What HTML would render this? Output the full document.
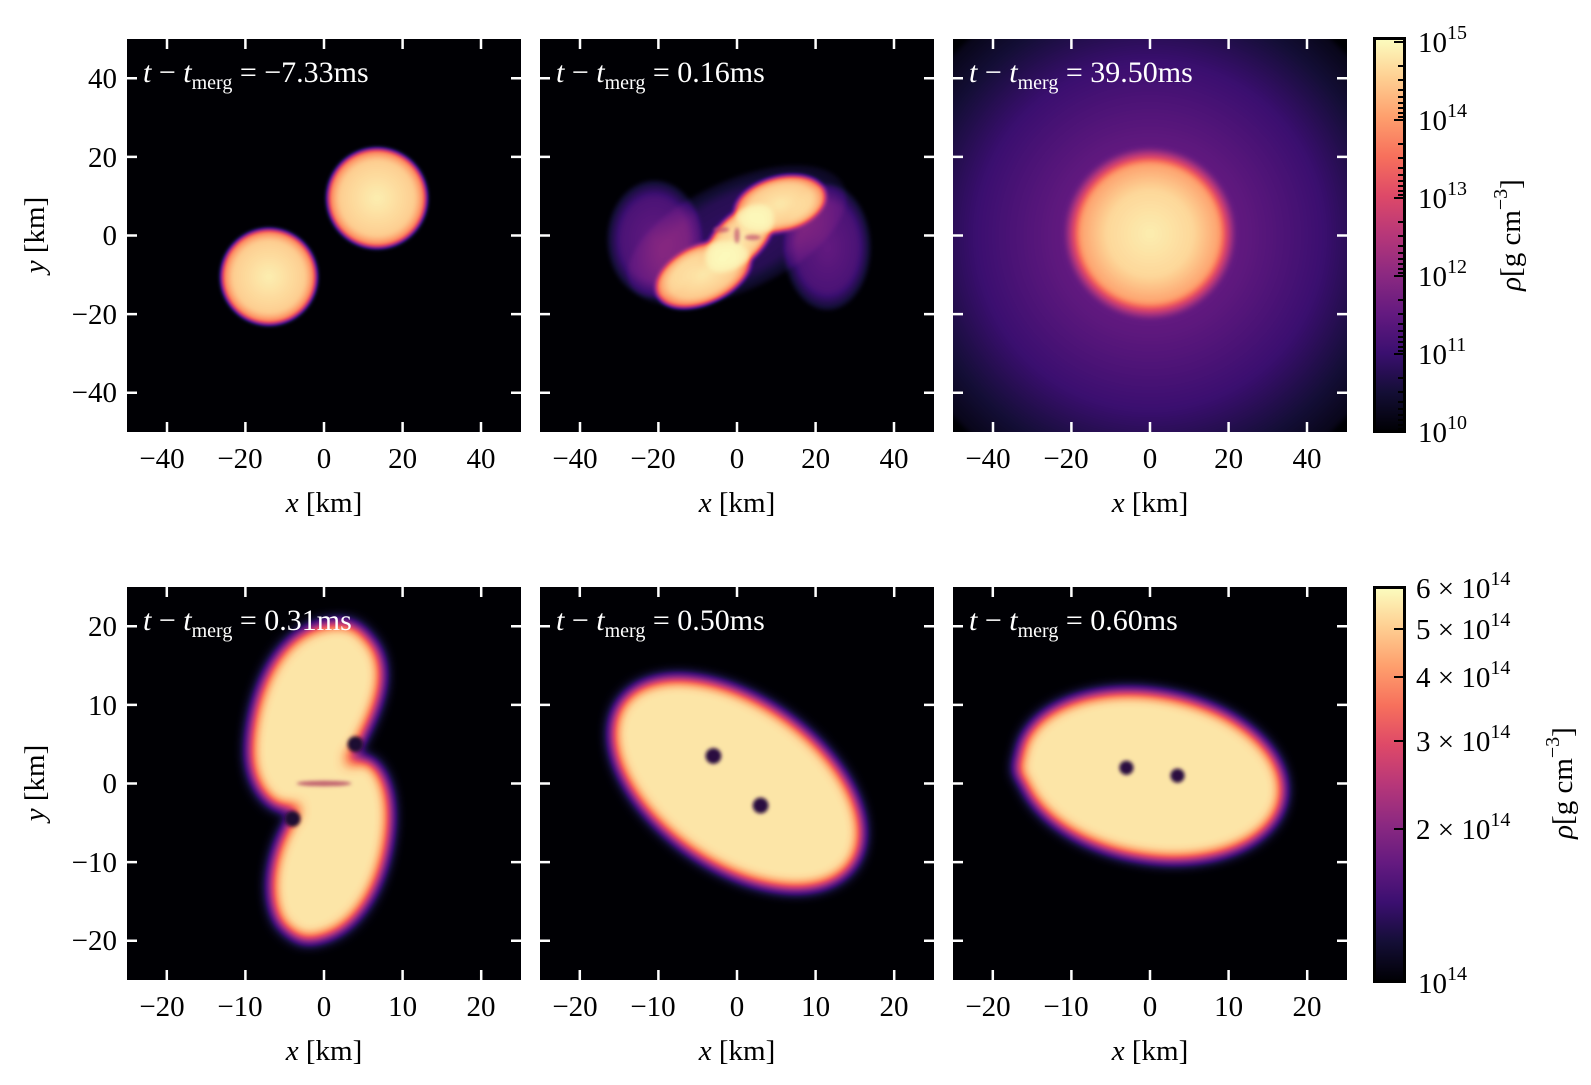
<!DOCTYPE html>
<html><head><meta charset="utf-8"><style>
html,body{margin:0;padding:0;background:#fff;}
svg text{font-family:"Liberation Serif","DejaVu Serif",serif;}
</style></head><body>
<svg width="1591" height="1080" viewBox="0 0 1591 1080" xmlns="http://www.w3.org/2000/svg">
<defs>
<linearGradient id="magma" x1="0" y1="1" x2="0" y2="0">
<stop offset="0" stop-color="#000004"/><stop offset=".1" stop-color="#140e36"/><stop offset=".2" stop-color="#3b0f70"/><stop offset=".3" stop-color="#641a80"/><stop offset=".4" stop-color="#8c2981"/><stop offset=".5" stop-color="#b73779"/><stop offset=".6" stop-color="#de4968"/><stop offset=".7" stop-color="#f7705c"/><stop offset=".8" stop-color="#fe9f6d"/><stop offset=".9" stop-color="#fecf92"/><stop offset="1" stop-color="#fcfdbf"/>
</linearGradient>
<filter id="cm1" x="0" y="0" width="1" height="1" color-interpolation-filters="sRGB">
<feGaussianBlur in="SourceAlpha" stdDeviation="2"/>
<feColorMatrix type="matrix" values="0 0 0 1 0  0 0 0 1 0  0 0 0 1 0  0 0 0 0 1"/>
<feComponentTransfer>
<feFuncR type="table" tableValues="0 .078 .231 .392 .549 .718 .871 .969 .996 .996 .988"/>
<feFuncG type="table" tableValues="0 .055 .059 .102 .161 .216 .286 .439 .624 .808 .992"/>
<feFuncB type="table" tableValues=".016 .212 .439 .502 .506 .475 .408 .361 .427 .569 .749"/>
</feComponentTransfer>
</filter>
<filter id="cm2" x="0" y="0" width="1" height="1" color-interpolation-filters="sRGB">
<feGaussianBlur in="SourceAlpha" stdDeviation="7"/>
<feColorMatrix type="matrix" values="0 0 0 .95 0  0 0 0 .95 0  0 0 0 .95 0  0 0 0 0 1"/>
<feComponentTransfer>
<feFuncR type="table" tableValues="0 .078 .231 .392 .549 .718 .871 .969 .996 .996 .988"/>
<feFuncG type="table" tableValues="0 .055 .059 .102 .161 .216 .286 .439 .624 .808 .992"/>
<feFuncB type="table" tableValues=".016 .212 .439 .502 .506 .475 .408 .361 .427 .569 .749"/>
</feComponentTransfer>
</filter>
<radialGradient id="starG"><stop offset="0" stop-color="#fff" stop-opacity=".97"/><stop offset=".75" stop-color="#fff" stop-opacity=".9"/><stop offset=".92" stop-color="#fff" stop-opacity=".75"/><stop offset="1" stop-color="#fff" stop-opacity=".45"/></radialGradient>
<radialGradient id="haloG"><stop offset="0" stop-color="#fff" stop-opacity=".36"/><stop offset=".35" stop-color="#fff" stop-opacity=".29"/><stop offset=".65" stop-color="#fff" stop-opacity=".2"/><stop offset="1" stop-color="#fff" stop-opacity=".04"/></radialGradient>
<radialGradient id="coreG"><stop offset="0" stop-color="#fff" stop-opacity=".95"/><stop offset=".5" stop-color="#fff" stop-opacity=".88"/><stop offset=".8" stop-color="#fff" stop-opacity=".72"/><stop offset="1" stop-color="#fff" stop-opacity="0"/></radialGradient>
<radialGradient id="h2G"><stop offset="0" stop-color="#fff" stop-opacity=".3"/><stop offset=".7" stop-color="#fff" stop-opacity=".24"/><stop offset="1" stop-color="#fff" stop-opacity=".08"/></radialGradient>
<radialGradient id="h3G"><stop offset="0" stop-color="#fff" stop-opacity=".18"/><stop offset=".7" stop-color="#fff" stop-opacity=".15"/><stop offset="1" stop-color="#fff" stop-opacity=".05"/></radialGradient>
<radialGradient id="blobG"><stop offset="0" stop-color="#fff" stop-opacity=".95"/><stop offset=".7" stop-color="#fff" stop-opacity=".88"/><stop offset=".9" stop-color="#fff" stop-opacity=".72"/><stop offset="1" stop-color="#fff" stop-opacity=".4"/></radialGradient>
<filter id="sp" x="-1" y="-1" width="3" height="3"><feGaussianBlur stdDeviation=".4"/></filter>
<filter id="sp2" x="-1" y="-1" width="3" height="3"><feGaussianBlur stdDeviation=".25"/></filter>
<clipPath id="c1"><rect x="127" y="39" width="394" height="393"/></clipPath>
<clipPath id="c2"><rect x="540" y="39" width="394" height="393"/></clipPath>
<clipPath id="c3"><rect x="953" y="39" width="394" height="393"/></clipPath>
<clipPath id="c4"><rect x="127" y="587" width="394" height="393"/></clipPath>
<clipPath id="c5"><rect x="540" y="587" width="394" height="393"/></clipPath>
<clipPath id="c6"><rect x="953" y="587" width="394" height="393"/></clipPath>
</defs>

<g clip-path="url(#c1)"><g filter="url(#cm1)">
<rect x="127" y="39" width="394" height="393" fill="#000" fill-opacity="0"/>
<g transform="translate(324,235.5) scale(3.93,-3.93)">
<circle cx="13.5" cy="9.5" r="12.8" fill="url(#starG)"/>
<circle cx="-14" cy="-10.5" r="12.3" fill="url(#starG)"/>
</g></g></g>

<g clip-path="url(#c2)"><g filter="url(#cm1)">
<rect x="540" y="39" width="394" height="393" fill="#000" fill-opacity="0"/>
<g transform="translate(737,235.5) scale(3.93,-3.93)">
<ellipse cx="-21" cy="-1" rx="12" ry="15" fill="url(#h2G)"/>
<ellipse cx="23" cy="-3" rx="11" ry="16" fill="url(#h2G)"/>
<ellipse cx="0" cy="0" rx="30" ry="14" transform="rotate(25)" fill="url(#h3G)"/>
<ellipse cx="-9" cy="-10" rx="13" ry="7.5" transform="rotate(25 -9 -9)" fill="url(#blobG)"/>
<ellipse cx="11" cy="8" rx="12" ry="7" transform="rotate(15 11 8)" fill="url(#blobG)"/>
<ellipse cx="0" cy="-1" rx="11" ry="6" transform="rotate(45)" fill="url(#blobG)"/>
</g></g></g>
<g transform="translate(737,235.5) scale(3.93,-3.93)" fill="#c05070" opacity=".7" filter="url(#sp)">
<ellipse cx="-4" cy="1.5" rx="2" ry=".7"/><ellipse cx="0" cy="0" rx=".7" ry="2"/><ellipse cx="4" cy="-.5" rx="2" ry=".7"/>
</g>

<g clip-path="url(#c3)"><g filter="url(#cm1)">
<rect x="953" y="39" width="394" height="393" fill="#000" fill-opacity="0"/>
<g transform="translate(1150,235.5) scale(3.93,-3.93)">
<circle cx="0" cy="0" r="68" fill="url(#haloG)"/>
<circle cx="0" cy="0.5" r="22" fill="url(#coreG)"/>
</g></g></g>

<g clip-path="url(#c4)"><g filter="url(#cm2)">
<rect x="127" y="587" width="394" height="393" fill="#000" fill-opacity="0"/>
<g transform="translate(324,783.5) scale(7.86,-7.86)" fill="#fff">
<path d="M2 20.5 C-6.5 20.5 -9.5 10 -9.5 4 C-9.5 -1 -6 -4 -4 -3 C-1 -1 3 2 5 6 C7 10 8.5 14 6.5 17.5 C5 19.5 4 20.5 2 20.5 Z"/>
<path d="M-2 -20 C5.5 -19.5 8.5 -10 8.5 -4 C8.5 1 6 4 4 3 C1 1 -3 -2 -5 -6 C-7 -10 -7.5 -15 -5.5 -18 C-4 -19.5 -3 -20 -2 -20 Z"/>
<ellipse cx="-0.5" cy="0" rx="5" ry="4"/>
</g></g></g>
<g transform="translate(324,783.5) scale(7.86,-7.86)" filter="url(#sp2)">
<ellipse cx="0" cy="0" rx="3.5" ry=".35" fill="#b04060" opacity=".8"/>
<circle cx="4" cy="5" r="1" fill="#1a0830"/>
<circle cx="-4" cy="-4.5" r="1" fill="#1a0830"/>
</g>

<g clip-path="url(#c5)"><g filter="url(#cm2)">
<rect x="540" y="587" width="394" height="393" fill="#000" fill-opacity="0"/>
<g transform="translate(737,783.5) scale(7.86,-7.86)" fill="#fff">
<ellipse cx="0" cy="0" rx="18" ry="10.5" transform="rotate(-35)"/>
<ellipse cx="-8" cy="5" rx="8" ry="6" transform="rotate(-20 -8 5)"/>
<ellipse cx="8" cy="-5" rx="8" ry="6" transform="rotate(-55 8 -5)"/>
</g></g></g>
<g transform="translate(737,783.5) scale(7.86,-7.86)" filter="url(#sp2)" fill="#2a0a40">
<circle cx="-3" cy="3.5" r="1"/><circle cx="3" cy="-2.8" r="1"/>
</g>

<g clip-path="url(#c6)"><g filter="url(#cm2)">
<rect x="953" y="587" width="394" height="393" fill="#000" fill-opacity="0"/>
<g transform="translate(1150,783.5) scale(7.86,-7.86)" fill="#fff">
<ellipse cx="0" cy="1" rx="17" ry="10.5" transform="rotate(-10)"/>
<ellipse cx="-14" cy="2" rx="3" ry="2.5"/>
</g></g></g>
<g transform="translate(1150,783.5) scale(7.86,-7.86)" filter="url(#sp2)" fill="#2a0a40">
<circle cx="-3" cy="2" r=".9"/><circle cx="3.5" cy="1" r=".9"/>
</g>

<g stroke="#fff" stroke-width="2.5">
<path id="tt" d="M167 432v-10M245.4 432v-10M324 432v-10M402.6 432v-10M481 432v-10M167 39v10M245.4 39v10M324 39v10M402.6 39v10M481 39v10M127 78.3h10M127 156.9h10M127 235.5h10M127 314.1h10M127 392.7h10M521 78.3h-10M521 156.9h-10M521 235.5h-10M521 314.1h-10M521 392.7h-10"/>
<use href="#tt" x="413"/><use href="#tt" x="826"/>
<path id="tb" d="M166.8 980v-10M245.4 980v-10M324 980v-10M402.6 980v-10M481.2 980v-10M166.8 587v10M245.4 587v10M324 587v10M402.6 587v10M481.2 587v10M127 626.3h10M127 704.9h10M127 783.5h10M127 862.1h10M127 940.7h10M521 626.3h-10M521 704.9h-10M521 783.5h-10M521 862.1h-10M521 940.7h-10"/>
<use href="#tb" x="413"/><use href="#tb" x="826"/>
</g>

<g fill="#fff" font-size="30" font-style="italic">
<text x="143" y="82">t <tspan font-style="normal">−</tspan> t<tspan font-size="20" font-style="normal" dy="7">merg</tspan><tspan font-style="normal" dy="-7"> = −7.33ms</tspan></text>
<text x="556" y="82">t <tspan font-style="normal">−</tspan> t<tspan font-size="20" font-style="normal" dy="7">merg</tspan><tspan font-style="normal" dy="-7"> = 0.16ms</tspan></text>
<text x="969" y="82">t <tspan font-style="normal">−</tspan> t<tspan font-size="20" font-style="normal" dy="7">merg</tspan><tspan font-style="normal" dy="-7"> = 39.50ms</tspan></text>
<text x="143" y="630">t <tspan font-style="normal">−</tspan> t<tspan font-size="20" font-style="normal" dy="7">merg</tspan><tspan font-style="normal" dy="-7"> = 0.31ms</tspan></text>
<text x="556" y="630">t <tspan font-style="normal">−</tspan> t<tspan font-size="20" font-style="normal" dy="7">merg</tspan><tspan font-style="normal" dy="-7"> = 0.50ms</tspan></text>
<text x="969" y="630">t <tspan font-style="normal">−</tspan> t<tspan font-size="20" font-style="normal" dy="7">merg</tspan><tspan font-style="normal" dy="-7"> = 0.60ms</tspan></text>
</g>

<g fill="#000" font-size="29" text-anchor="middle">
<g id="xt"><text x="162" y="468">−40</text><text x="240" y="468">−20</text><text x="324" y="468">0</text><text x="402.6" y="468">20</text><text x="481" y="468">40</text>
<text x="324" y="512"><tspan font-style="italic">x</tspan> [km]</text></g>
<use href="#xt" x="413"/><use href="#xt" x="826"/>
<g id="xb"><text x="162" y="1016">−20</text><text x="240" y="1016">−10</text><text x="324" y="1016">0</text><text x="402.6" y="1016">10</text><text x="481" y="1016">20</text>
<text x="324" y="1060"><tspan font-style="italic">x</tspan> [km]</text></g>
<use href="#xb" x="413"/><use href="#xb" x="826"/>
</g>
<g fill="#000" font-size="29" text-anchor="end">
<text x="117" y="88">40</text><text x="117" y="167">20</text><text x="117" y="245">0</text><text x="117" y="324">−20</text><text x="117" y="402">−40</text>
<text x="117" y="636">20</text><text x="117" y="715">10</text><text x="117" y="793">0</text><text x="117" y="872">−10</text><text x="117" y="950">−20</text>
</g>
<g fill="#000" font-size="29" text-anchor="middle">
<text transform="translate(44,235) rotate(-90)"><tspan font-style="italic">y</tspan> [km]</text>
<text transform="translate(44,783) rotate(-90)"><tspan font-style="italic">y</tspan> [km]</text>
</g>

<rect x="1374.5" y="38.5" width="30" height="393" fill="url(#magma)" stroke="#000" stroke-width="3"/>
<rect x="1374.5" y="587.5" width="30" height="394" fill="url(#magma)" stroke="#000" stroke-width="3"/>
<g stroke="#000" stroke-width="2">
<path d="M1394 42h10M1394 120h10M1394 198h10M1394 276h10M1394 354h10"/>
<path d="M1398 66h6M1398 80h6M1398 90h6M1398 97h6M1398 103h6M1398 108h6M1398 113h6M1398 117h6
M1398 144h6M1398 158h6M1398 168h6M1398 175h6M1398 181h6M1398 186h6M1398 191h6M1398 195h6
M1398 222h6M1398 236h6M1398 246h6M1398 253h6M1398 259h6M1398 264h6M1398 269h6M1398 273h6
M1398 300h6M1398 314h6M1398 324h6M1398 331h6M1398 337h6M1398 342h6M1398 347h6M1398 351h6
M1398 378h6M1398 392h6M1398 402h6M1398 409h6M1398 415h6M1398 420h6M1398 425h6M1398 429h6"/>
<path d="M1394 829h10M1394 741h10M1394 677h10M1394 629h10"/>
</g>
<g fill="#000" font-size="29">
<text x="1418" y="52">10<tspan font-size="20" dy="-13">15</tspan></text>
<text x="1418" y="130">10<tspan font-size="20" dy="-13">14</tspan></text>
<text x="1418" y="208">10<tspan font-size="20" dy="-13">13</tspan></text>
<text x="1418" y="286">10<tspan font-size="20" dy="-13">12</tspan></text>
<text x="1418" y="364">10<tspan font-size="20" dy="-13">11</tspan></text>
<text x="1418" y="442">10<tspan font-size="20" dy="-13">10</tspan></text>
<text x="1416" y="598">6 × 10<tspan font-size="20" dy="-13">14</tspan></text>
<text x="1416" y="639">5 × 10<tspan font-size="20" dy="-13">14</tspan></text>
<text x="1416" y="687">4 × 10<tspan font-size="20" dy="-13">14</tspan></text>
<text x="1416" y="751">3 × 10<tspan font-size="20" dy="-13">14</tspan></text>
<text x="1416" y="839">2 × 10<tspan font-size="20" dy="-13">14</tspan></text>
<text x="1418" y="993">10<tspan font-size="20" dy="-13">14</tspan></text>
</g>
<g fill="#000" font-size="29" text-anchor="middle">
<text transform="translate(1520,235) rotate(-90)"><tspan font-style="italic">ρ</tspan>[g cm<tspan font-size="20" dy="-13">−3</tspan><tspan dy="13">]</tspan></text>
<text transform="translate(1572,783) rotate(-90)"><tspan font-style="italic">ρ</tspan>[g cm<tspan font-size="20" dy="-13">−3</tspan><tspan dy="13">]</tspan></text>
</g>
</svg>
</body></html>
